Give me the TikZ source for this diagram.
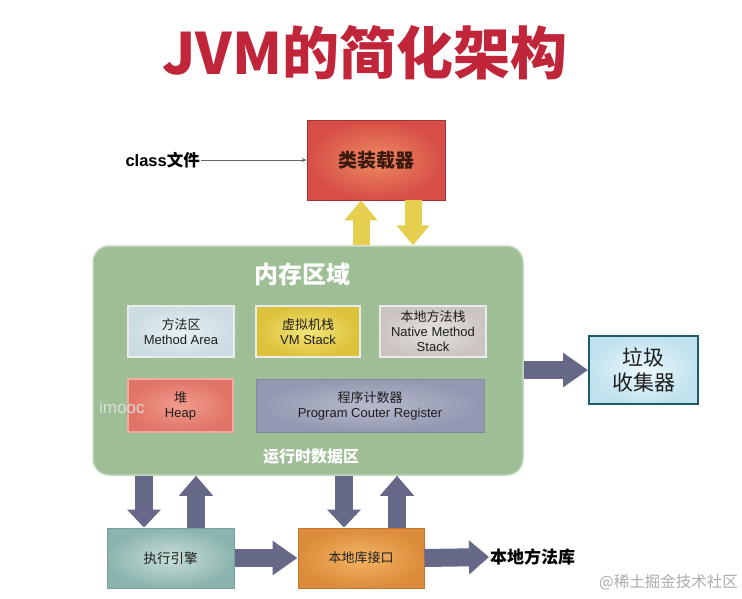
\documentclass[tikz,border=0pt]{standalone}
\usepackage{fontspec}
\setmainfont{Liberation Sans}
\newfontfamily\cjk{Noto Sans CJK SC}
\usetikzlibrary{arrows.meta,shadings}
\definecolor{titlered}{HTML}{C0253A}
\definecolor{memgreen}{HTML}{9EBE96}
\definecolor{memborder}{HTML}{C4D8C0}
\definecolor{yarrowc}{HTML}{E6CE4E}
\definecolor{garrowc}{HTML}{656987}
\definecolor{gcborder}{HTML}{1F5C68}
\definecolor{txt}{HTML}{1E1E1E}
\tikzset{
  box/.style={draw, align=center, inner sep=0pt, text=txt},
  inner/.style={box, line width=2pt, draw=white!92!black, minimum width=#1, minimum height=51pt, font=\fontsize{13}{15}\selectfont},
  yfat/.style={draw=yarrowc, line width=17pt, -{Triangle[length=20pt,width=32pt]}},
  gfat/.style={draw=garrowc, line width=18pt, -{Triangle[length=#1,width=33pt]}},
  gfat/.default=20pt,
}
\begin{document}
\begin{tikzpicture}[x=1pt,y=-1pt]
\useasboundingbox (0,0) rectangle (742,598);
\fill[white] (0,0) rectangle (742,598);

% title
\node[text=titlered, font=\cjk\bfseries\fontsize{57}{62}\selectfont] (title) at (365,53) {JVM的简化架构};

% class loader
\node[box, draw=red!55!black!80, line width=0.8pt, shading=radial, inner color={rgb,255:red,238;green,138;blue,98}, outer color={rgb,255:red,214;green,78;blue,70}, minimum width=138pt, minimum height=80pt, font=\cjk\bfseries\fontsize{19}{21}\selectfont, text={rgb,255:red,60;green,25;blue,15}] (loader) at (376,160) {类装载器};
\node[font=\bfseries\fontsize{16.5}{18}\selectfont, anchor=east, inner sep=1pt] (classfile) at (201,160) {class{\cjk\bfseries 文件}};
\draw[gray!80!black, line width=0.6pt, -{Stealth[length=5pt,width=4pt]}] (classfile.east) -- (loader.west);

% memory area
\node[draw=memborder, fill=memgreen, line width=1.5pt, rounded corners=16pt, minimum width=430pt, minimum height=229pt] (mem) at (308,360.5) {};
\node[text=white, font=\cjk\bfseries\fontsize{24}{26}\selectfont] (memtitle) at (302,274) {内存区域};
\node[text=white, font=\cjk\bfseries\fontsize{16}{18}\selectfont] (rtdata) at (311,457) {运行时数据区};

\node[inner=106pt, shading=radial, inner color={rgb,255:red,232;green,240;blue,242}, outer color={rgb,255:red,204;green,220;blue,226}] (method) at (181,331.5) {{\cjk 方法区}\\Method Area};
\node[inner=104pt, shading=radial, inner color={rgb,255:red,242;green,228;blue,120}, outer color={rgb,255:red,220;green,194;blue,58}] (vm) at (308,331.5) {{\cjk 虚拟机栈}\\VM Stack};
\node[inner=106pt, shading=radial, inner color={rgb,255:red,230;green,226;blue,222}, outer color={rgb,255:red,204;green,196;blue,192}] (native) at (433,331.5) {{\cjk 本地方法栈}\\Native Method\\Stack};
\node[inner=105pt, minimum height=53pt, draw={rgb,255:red,240;green,170;blue,160}, shading=radial, inner color={rgb,255:red,240;green,156;blue,140}, outer color={rgb,255:red,224;green,116;blue,104}] (heap) at (180.5,405.5) {{\cjk 堆}\\Heap};
\node[inner=228pt, minimum height=53pt, draw={rgb,255:red,130;green,136;blue,160}, line width=1pt, shading=radial, inner color={rgb,255:red,182;green,186;blue,204}, outer color={rgb,255:red,146;green,152;blue,176}] (pc) at (370,405.5) {{\cjk 程序计数器}\\Program Couter Register};

% garbage collector
\node[box, draw=gcborder, line width=2pt, shading=radial, inner color={rgb,255:red,236;green,248;blue,252}, outer color={rgb,255:red,192;green,226;blue,238}, minimum width=109pt, minimum height=68pt, font=\cjk\fontsize{21}{25}\selectfont] (gc) at (643.5,370) {垃圾\\收集器};

% execution engine and native interface
\node[box, draw={rgb,255:red,120;green,160;blue,156}, line width=1pt, shading=radial, inner color={rgb,255:red,200;green,222;blue,218}, outer color={rgb,255:red,140;green,180;blue,175}, minimum width=127pt, minimum height=60pt, font=\cjk\fontsize{13.5}{16}\selectfont] (exec) at (170.5,558) {执行引擎};
\node[box, draw={rgb,255:red,190;green,120;blue,50}, line width=1pt, shading=radial, inner color={rgb,255:red,242;green,180;blue,100}, outer color={rgb,255:red,220;green,140;blue,58}, minimum width=126pt, minimum height=60pt, font=\cjk\fontsize{13}{16}\selectfont] (nli) at (361,558) {本地库接口};
\node[font=\cjk\bfseries\fontsize{17}{19}\selectfont, anchor=west, inner sep=1pt] (nlib) at (489,557) {本地方法库};

% yellow arrows
\draw[yfat] (mem.north -| 361,0) -- (loader.south -| 361,0);
\draw[yfat] (loader.south -| 413,0) -- (mem.north -| 413,0);

% grey arrows
\draw[gfat=25pt] (mem.east |- 0,370) -- (gc.west |- 0,370);
\draw[gfat=18pt] (mem.south -| 144,0) -- (exec.north -| 144,0);
\draw[gfat] (exec.north -| 196,0) -- (mem.south -| 196,0);
\draw[gfat=18pt] (mem.south -| 344,0) -- (nli.north -| 344,0);
\draw[gfat] (nli.north -| 397,0) -- (mem.south -| 397,0);
\draw[gfat=25pt] (exec.east) -- (nli.west);
\draw[gfat=20pt] (nli.east) -- (nlib.west);

% watermarks
\node[text=white!80!gray, opacity=0.85, font=\fontsize{17}{19}\selectfont, anchor=west, inner sep=0pt] (wm1) at (99,407) {imooc};
\node[text=gray!65, font=\cjk\fontsize{15.5}{17}\selectfont, anchor=east, inner sep=0pt] (wm2) at (738,582) {@稀土掘金技术社区};
\end{tikzpicture}
\end{document}
